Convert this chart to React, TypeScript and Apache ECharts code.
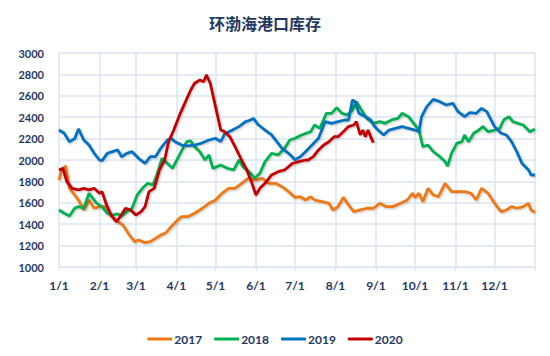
import React, { useEffect, useRef } from "react";
import * as echarts from "echarts";

const monthLengths = [31, 28, 31, 30, 31, 30, 31, 31, 30, 31, 30, 31];
const years = ["2017", "2018", "2019", "2020"];
const colors = ["#EE7714", "#00B050", "#0070C0", "#C00000"];

const days2017 = [0,2,5,8,12,15,19,23,27,31,35,38,43,49,54,58,61,66,70,74,78,82,86,91,94,99,104,110,115,120,125,130,135,140,145,150,156,161,166,171,176,181,185,189,193,196,202,207,210,214,218,222,226,231,236,241,246,251,256,262,267,271,273,276,279,283,287,291,296,301,306,311,316,320,324,329,334,339,343,347,351,356,360,362,365];
const vals2017 = [1813,1907,1944,1735,1673,1626,1533,1626,1549,1564,1564,1502,1440,1393,1299,1237,1253,1228,1237,1268,1299,1321,1377,1440,1471,1471,1502,1549,1595,1626,1689,1735,1735,1782,1829,1813,1829,1782,1782,1751,1704,1650,1657,1626,1657,1626,1611,1595,1533,1564,1651,1580,1517,1533,1549,1549,1595,1564,1564,1595,1626,1689,1650,1689,1611,1735,1673,1657,1782,1704,1704,1704,1689,1626,1735,1689,1595,1517,1533,1564,1549,1564,1595,1533,1510];

const days2018 = [0,4,8,12,15,19,23,26,29,33,37,41,45,48,52,56,60,64,68,72,75,79,83,87,91,95,98,101,104,108,112,115,118,124,129,134,138,141,147,150,154,158,163,168,173,177,181,186,193,196,200,205,209,213,217,221,225,228,232,236,241,246,250,255,260,263,268,272,276,279,283,287,292,296,298,301,305,309,311,314,318,322,325,329,334,338,341,345,348,352,356,361,365];
const vals2018 = [1533,1502,1477,1549,1564,1549,1689,1642,1595,1564,1502,1486,1496,1477,1517,1549,1673,1735,1782,1767,1860,2016,1969,1922,2016,2109,2171,2178,2125,2078,2000,2047,1922,1953,1922,1907,2000,1938,1875,1829,1875,1985,2062,2047,2109,2187,2203,2234,2265,2327,2296,2436,2436,2489,2436,2421,2467,2545,2467,2389,2343,2358,2343,2374,2389,2436,2405,2343,2280,2125,2140,2078,2031,1985,1944,2062,2156,2171,2234,2171,2250,2280,2312,2265,2280,2296,2374,2405,2358,2343,2327,2265,2287];

const days2019 = [0,4,8,12,15,19,23,27,31,33,37,41,45,48,52,56,61,66,70,74,78,83,86,89,94,99,104,109,115,120,124,127,133,138,143,147,149,153,158,163,167,171,176,181,185,189,194,199,204,209,214,219,222,225,227,230,235,239,242,246,249,253,258,263,268,273,276,278,282,287,292,297,302,306,311,315,320,324,328,330,334,339,343,347,351,355,360,362,365];
const vals2019 = [2280,2250,2170,2200,2290,2187,2140,2062,2000,1994,2062,2078,2094,2030,2062,2078,2016,1969,2031,2031,2109,2187,2203,2171,2140,2131,2140,2156,2187,2203,2171,2243,2280,2312,2358,2374,2389,2327,2280,2234,2171,2109,2062,2003,2031,2078,2140,2203,2358,2343,2358,2374,2374,2561,2545,2436,2405,2374,2312,2265,2234,2280,2296,2312,2296,2280,2265,2405,2499,2567,2545,2514,2530,2452,2405,2442,2436,2483,2452,2405,2312,2250,2234,2171,2078,1969,1907,1860,1860];

const days2020 = [0,3,6,10,15,19,23,27,31,33,36,40,44,47,51,55,59,63,66,69,73,77,81,84,88,91,93,97,101,104,108,111,113,116,120,124,127,131,135,140,144,148,151,154,158,163,168,173,179,184,189,191,195,199,203,207,211,214,218,222,226,228,231,233,235,237,239,241];
const vals2020 = [1907,1922,1798,1735,1720,1735,1720,1735,1689,1704,1595,1486,1424,1471,1549,1533,1486,1517,1564,1704,1735,1907,2000,2171,2280,2374,2436,2545,2654,2717,2748,2732,2795,2717,2499,2280,2265,2218,2125,2000,1907,1782,1673,1735,1782,1860,1891,1907,1969,1985,2000,2000,2031,2094,2140,2171,2218,2218,2265,2312,2327,2358,2234,2280,2218,2280,2218,2162];

const yTicks = { min: 1000, max: 3000, interval: 200 };

const seriesDays = [days2017, days2018, days2019, days2020];
const seriesVals = [vals2017, vals2018, vals2019, vals2020];

// Build day-of-year categories (365 days + closing edge)
const categories: string[] = [];
const monthStartIdx = new Set<number>();
{
  let idx = 0;
  monthLengths.forEach((len, m) => {
    for (let d = 1; d <= len; d++) {
      if (d === 1) monthStartIdx.add(idx);
      categories.push(`${m + 1}/${d}`);
      idx++;
    }
  });
  categories.push("end");
}
const lastIdx = categories.length - 1;

const navy = "#1F3864";
const gridColor = "#DCE4F2";

export default function App() {
  const ref = useRef<HTMLDivElement>(null);
  useEffect(() => {
    if (!ref.current) return;
    const chart = echarts.init(ref.current, null, { renderer: "svg" });
    chart.setOption({
      animation: false,
      backgroundColor: "#ffffff",
      title: {
        text: "环渤海港口库存",
        left: 204,
        top: 10,
        textStyle: {
          fontFamily: "Noto Sans CJK SC",
          fontSize: 16,
          fontWeight: "bold",
          color: navy,
        },
      },
      legend: {
        data: years,
        left: "center",
        top: 328,
        itemWidth: 25,
        itemHeight: 3,
        itemGap: 12,
        icon: "roundRect",
        textStyle: {
          fontFamily: "Lato",
          fontSize: 12,
          fontWeight: "bold",
          color: navy,
          padding: [0, 0, 0, -3],
        },
      },
      grid: { left: 59, right: 15, top: 53, bottom: 89, containLabel: false },
      xAxis: {
        type: "category",
        data: categories,
        boundaryGap: false,
        axisLine: { show: true, lineStyle: { color: gridColor, width: 1 } },
        axisTick: {
          show: true,
          length: 4,
          interval: (i: number) => monthStartIdx.has(i) || i === lastIdx,
          lineStyle: { color: gridColor },
        },
        axisLabel: {
          interval: (i: number) => monthStartIdx.has(i),
          margin: 12,
          fontFamily: "Lato",
          fontSize: 12,
          fontWeight: "bold",
          color: navy,
          formatter: (v: string) => (v.endsWith("/1") ? v : ""),
        },
        splitLine: {
          show: true,
          interval: (i: number) => monthStartIdx.has(i) || i === lastIdx,
          lineStyle: { color: gridColor, width: 1.5 },
        },
      },
      yAxis: {
        type: "value",
        min: yTicks.min,
        max: yTicks.max,
        interval: yTicks.interval,
        axisLine: { show: false },
        axisTick: { show: false },
        axisLabel: {
          margin: 15,
          fontFamily: "Lato",
          fontSize: 11,
          fontWeight: "bold",
          color: navy,
          formatter: (v: number) => String(v),
        },
        splitLine: { show: true, lineStyle: { color: gridColor, width: 1.5 } },
      },
      series: years.map((y, k) => ({
        name: y,
        type: "line",
        symbol: "none",
        showSymbol: false,
        smooth: false,
        color: colors[k],
        lineStyle: {
          width: 2.8,
          color: colors[k],
          shadowColor: "rgba(0,0,0,0.25)",
          shadowBlur: 2,
          shadowOffsetX: 1,
          shadowOffsetY: 1,
        },
        data: seriesDays[k].map((d, i) => [d, seriesVals[k][i]]),
      })),
    });
    return () => chart.dispose();
  }, []);
  return (
    <div
      ref={ref}
      style={{ position: "fixed", left: 0, top: 0, width: 550, height: 356 }}
    />
  );
}
